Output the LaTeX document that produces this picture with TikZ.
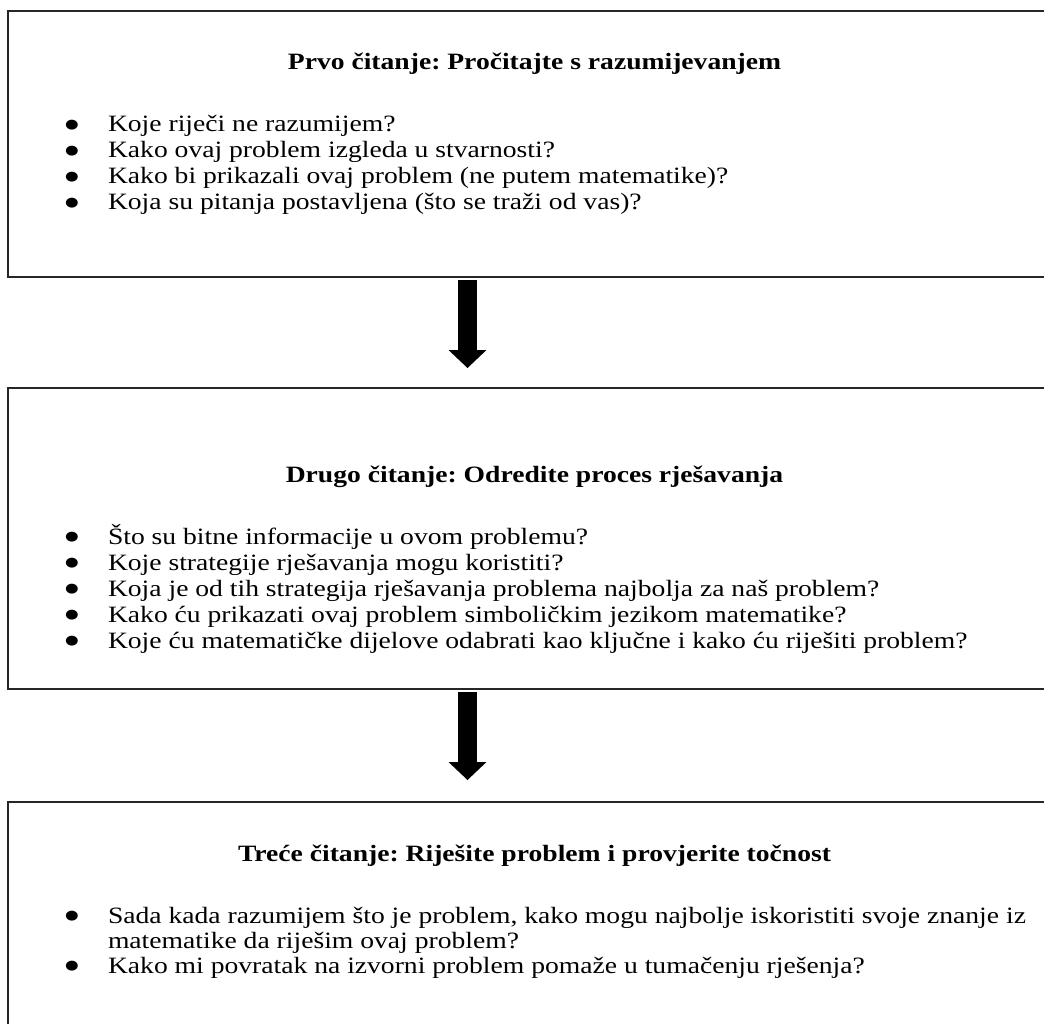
\documentclass[tikz,border=0pt]{standalone}
\usepackage{fontspec}
\setmainfont[FakeStretch=1.18]{Liberation Serif}
\newfontfamily\bulfont[FakeStretch=1.2]{DejaVu Sans}
\frenchspacing
\usetikzlibrary{arrows.meta,calc}
\tikzset{
  boxsty/.style={draw=black!85, line width=2pt, inner sep=0pt, outer sep=0pt, anchor=north west, minimum width=1038pt},
  txt/.style={inner sep=0pt, outer sep=0pt, anchor=base west, font=\fontsize{23.4}{28}\selectfont},
  head/.style={inner sep=0pt, outer sep=0pt, anchor=base, font=\fontsize{23.4}{28}\selectfont\bfseries},
  bul/.style={inner sep=0pt, outer sep=0pt, anchor=center, yshift=1.5pt, font=\bulfont\fontsize{13}{13}\selectfont},
  bigarrow/.style={line width=19pt, -{Triangle[length=18pt,width=38pt,line width=0pt]}}
}
\begin{document}
\begin{tikzpicture}[x=1pt,y=-1pt]
\useasboundingbox (0,0) rectangle (1044,1024);
% boxes
\node[boxsty, minimum height=266pt] (b1) at (8,11) {};
\node[boxsty, minimum height=301pt] (b2) at (8,388) {};
\node[boxsty, minimum height=228pt] (b3) at (8,802) {};
\coordinate (ax) at (467.5,0);
% box 1
\node[head] (h1) at (534.5,70) {Prvo čitanje: Pročitajte s razumijevanjem};
\node[bul] (p11) at (72,127) {●};
\node[txt] (t11) at (108,132) {Koje riječi ne razumijem?};
\node[bul] (p12) at (72,153) {●};
\node[txt] (t12) at (108,158) {Kako ovaj problem izgleda u stvarnosti?};
\node[bul] (p13) at (72,179) {●};
\node[txt] (t13) at (108,184) {Kako bi prikazali ovaj problem (ne putem matematike)?};
\node[bul] (p14) at (72,205) {●};
\node[txt] (t14) at (108,210) {Koja su pitanja postavljena (što se traži od vas)?};
% box 2
\node[head] (h2) at (534.5,482) {Drugo čitanje: Odredite proces rješavanja};
\node[bul] (p21) at (72,539) {●};
\node[txt] (t21) at (108,544) {Što su bitne informacije u ovom problemu?};
\node[bul] (p22) at (72,565) {●};
\node[txt] (t22) at (108,570) {Koje strategije rješavanja mogu koristiti?};
\node[bul] (p23) at (72,591) {●};
\node[txt] (t23) at (108,596) {Koja je od tih strategija rješavanja problema najbolja za naš problem?};
\node[bul] (p24) at (72,617) {●};
\node[txt] (t24) at (108,622) {Kako ću prikazati ovaj problem simboličkim jezikom matematike?};
\node[bul] (p25) at (72,643) {●};
\node[txt] (t25) at (108,648) {Koje ću matematičke dijelove odabrati kao ključne i kako ću riješiti problem?};
% box 3
\node[head] (h3) at (534.5,861) {Treće čitanje: Riješite problem i provjerite točnost};
\node[bul] (p31) at (72,918) {●};
\node[txt] (t31) at (108,923) {Sada kada razumijem što je problem, kako mogu najbolje iskoristiti svoje znanje iz};
\node[txt] (t32) at (108,948) {matematike da riješim ovaj problem?};
\node[bul] (p33) at (72,968) {●};
\node[txt] (t33) at (108,973) {Kako mi povratak na izvorni problem pomaže u tumačenju rješenja?};
% arrows
\draw[bigarrow] ([yshift=-3pt]b1.south -| ax) -- ([yshift=20pt]b2.north -| ax);
\draw[bigarrow] ([yshift=-3pt]b2.south -| ax) -- ([yshift=22pt]b3.north -| ax);
\end{tikzpicture}
\end{document}
